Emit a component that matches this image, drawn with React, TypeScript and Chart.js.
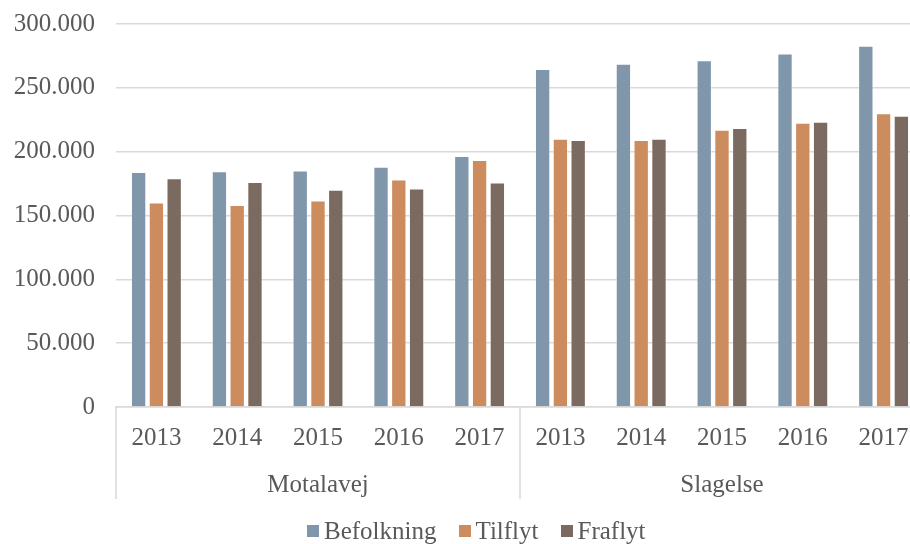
import React, { useEffect, useRef } from "react";
import { Chart, registerables } from "chart.js";

Chart.register(...registerables);

const years = ["2013", "2014", "2015", "2016", "2017"];
const groups = ["Motalavej", "Slagelse"];
const befolkning = [184000, 184500, 185000, 188000, 196500, 264500, 268700, 271500, 276700, 282800];
const tilflyt = [160000, 158000, 161600, 178000, 193400, 210000, 209000, 217000, 222500, 230000];
const fraflyt = [179000, 176000, 170000, 171000, 175700, 209000, 210000, 218300, 223300, 228000];
const seriesNames = ["Befolkning", "Tilflyt", "Fraflyt"];
const colors = ["#7f96ab", "#cc8c5e", "#7b6a5f"];

const FONT = "'Liberation Serif', serif";
const FS = 25;
const TEXT = "#595959";

function fmt(v: number): string {
  const s = Math.round(v).toString();
  return s.replace(/\B(?=(\d{3})+(?!\d))/g, ".");
}

const groupPlugin = {
  id: "groupPlugin",
  afterDraw(chart: any) {
    const ctx = chart.ctx;
    const x = chart.scales.x;
    const area = chart.chartArea;
    const n = years.length;
    ctx.save();
    ctx.strokeStyle = "#d9d9d9";
    ctx.lineWidth = 1.5;
    const edges: number[] = [];
    for (let g = 0; g <= groups.length; g++) {
      let px: number;
      if (g === 0) px = area.left;
      else if (g === groups.length) px = area.right;
      else px = (x.getPixelForValue(g * n - 1) + x.getPixelForValue(g * n)) / 2;
      edges.push(px);
      ctx.beginPath();
      ctx.moveTo(px, area.bottom);
      ctx.lineTo(px, area.bottom + 92);
      ctx.stroke();
    }
    ctx.fillStyle = TEXT;
    ctx.font = FS + "px " + FONT;
    ctx.textAlign = "center";
    ctx.textBaseline = "middle";
    groups.forEach((g, i) => {
      ctx.fillText(g, (edges[i] + edges[i + 1]) / 2, area.bottom + 78);
    });
    ctx.restore();
  },
};

export default function App() {
  const ref = useRef<HTMLCanvasElement>(null);
  useEffect(() => {
    if (!ref.current) return;
    const labels: string[] = [];
    groups.forEach(() => years.forEach((y) => labels.push(y)));
    const data = [befolkning, tilflyt, fraflyt];
    const chart = new Chart(ref.current, {
      type: "bar",
      data: {
        labels,
        datasets: seriesNames.map((name, i) => ({
          label: name,
          data: data[i],
          backgroundColor: colors[i],
          borderColor: "rgba(255,255,255,0.5)",
          borderWidth: 0.8,
          categoryPercentage: 0.66,
          barPercentage: 0.84,
        })),
      },
      options: {
        animation: false,
        responsive: false,
        maintainAspectRatio: false,
        layout: { padding: { top: 24, left: 0, right: 0, bottom: 0 } },
        plugins: {
          legend: { display: false },
          tooltip: { enabled: false },
        },
        scales: {
          x: {
            grid: { display: false, drawTicks: false },
            border: { display: true, color: "#d9d9d9", width: 1.5 },
            ticks: {
              color: TEXT,
              font: { family: FONT, size: FS },
              padding: 16,
              maxRotation: 0,
              autoSkip: false,
            },
            afterFit(scale: any) {
              scale.height = 137;
              scale.paddingLeft = 0;
              scale.paddingRight = 0;
            },
          },
          y: {
            min: 0,
            max: 300000,
            grid: { color: "#d9d9d9", lineWidth: 1.5, drawTicks: false },
            border: { display: false },
            ticks: {
              stepSize: 50000,
              color: TEXT,
              font: { family: FONT, size: FS },
              padding: 21,
              callback: (v: any) => fmt(Number(v)),
            },
            afterFit(scale: any) {
              scale.width = 116;
              scale.paddingTop = 0;
              scale.paddingBottom = 0;
            },
          },
        },
      },
      plugins: [groupPlugin],
    });
    return () => chart.destroy();
  }, []);

  return (
    <div
      style={{
        position: "fixed",
        left: 0,
        top: 0,
        width: 910,
        height: 544,
        overflow: "hidden",
        background: "#fff",
      }}
    >
      <canvas ref={ref} width={924} height={544} style={{ position: "absolute", left: 0, top: 0 }} />
      <div
        style={{
          position: "absolute",
          left: 307,
          top: 518,
          height: 26,
          display: "flex",
          alignItems: "center",
          fontFamily: FONT,
          fontSize: FS,
          lineHeight: "26px",
          color: TEXT,
          whiteSpace: "nowrap",
        }}
      >
        {seriesNames.map((name, i) => (
          <div key={name} style={{ display: "flex", alignItems: "center", marginRight: i < seriesNames.length - 1 ? 22 : 0 }}>
            <span style={{ display: "inline-block", width: 12, height: 12, background: colors[i], marginRight: 5 }} />
            <span>{name}</span>
          </div>
        ))}
      </div>
    </div>
  );
}
